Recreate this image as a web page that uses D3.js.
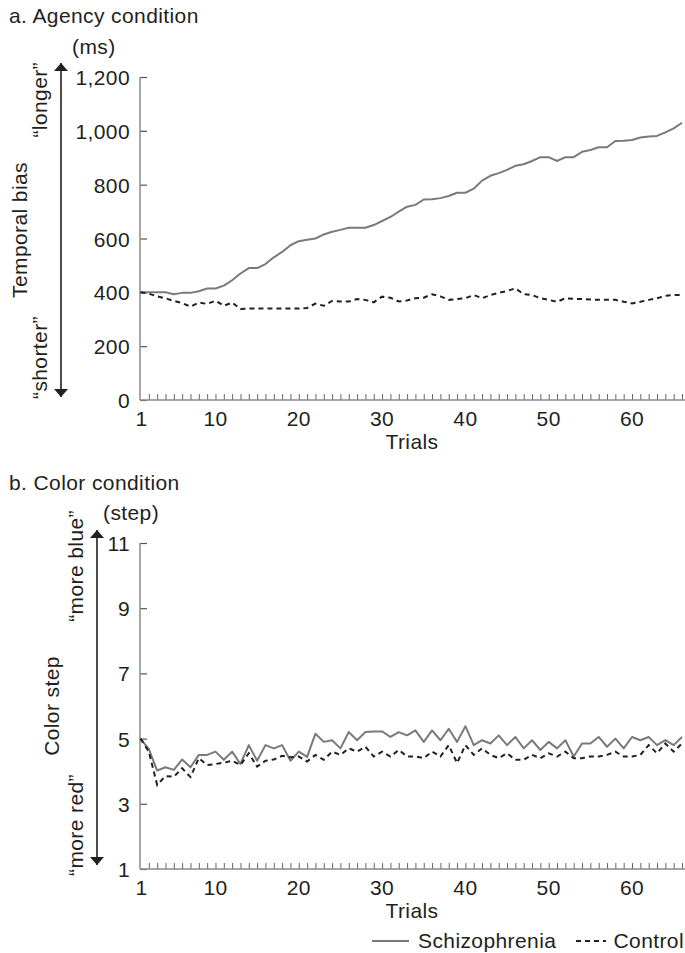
<!DOCTYPE html>
<html>
<head>
<meta charset="utf-8">
<script src="https://cdn.jsdelivr.net/npm/d3@7"></script>
<style>
  body { margin: 0; background: #fff; }
  svg text { font-family: "Liberation Sans", Arial, sans-serif; fill: #231f20; letter-spacing: 0.4px; }
</style>
</head>
<body>
<svg id="chart" width="685" height="953"></svg>
<script>
// trials 1..66
const trials = d3.range(1, 67);
const trialLabels = [1, 10, 20, 30, 40, 50, 60];

// a. agency condition, temporal bias (ms)
const agencySchizo = [400, 400, 400, 400, 393, 398, 398, 404, 414, 414,
  425, 445, 470, 490, 490, 505, 530, 550, 575, 590,
  595, 600, 615, 625, 632, 640, 640, 640, 650, 665,
  680, 700, 718, 725, 745, 746, 750, 758, 770, 770,
  785, 815, 833, 843, 855, 870, 876, 888, 902, 902,
  888, 902, 902, 922, 929, 939, 939, 962, 963, 966,
  975, 979, 981, 994, 1009, 1030];
const agencyControl = [400, 395, 385, 378, 368, 360, 347, 362, 357, 369,
  350, 362, 338, 340, 340, 340, 340, 340, 340, 340,
  342, 358, 350, 368, 366, 366, 375, 372, 363, 384,
  380, 366, 370, 378, 380, 393, 385, 372, 375, 378,
  390, 378, 390, 398, 405, 415, 393, 390, 378, 372,
  365, 378, 376, 375, 373, 372, 372, 372, 365, 359,
  365, 372, 378, 387, 390, 390];
const agencyTicks = [0, 200, 400, 600, 800, 1000, 1200];

// b. color condition, color step
const colorSchizo = [5.0, 4.68, 4.02, 4.12, 4.04, 4.36, 4.12, 4.5, 4.5, 4.6,
  4.35, 4.6, 4.22, 4.8, 4.32, 4.8, 4.7, 4.8, 4.32, 4.6,
  4.44, 5.15, 4.9, 4.95, 4.7, 5.2, 4.95, 5.2, 5.22, 5.22,
  5.05, 5.2, 5.1, 5.25, 4.9, 5.25, 4.95, 5.3, 4.9, 5.38,
  4.8, 4.95, 4.85, 5.1, 4.8, 5.05, 4.7, 4.95, 4.65, 4.9,
  4.7, 4.95, 4.45, 4.85, 4.85, 5.05, 4.75, 5.0, 4.7, 5.05,
  4.95, 5.05, 4.8, 4.95, 4.8, 5.05];
const colorControl = [5.0, 4.6, 3.58, 3.85, 3.83, 4.09, 3.82, 4.4, 4.19, 4.22,
  4.26, 4.32, 4.19, 4.55, 4.14, 4.32, 4.36, 4.47, 4.43, 4.45,
  4.3, 4.5, 4.35, 4.6, 4.5, 4.7, 4.6, 4.75, 4.45, 4.6,
  4.45, 4.65, 4.45, 4.45, 4.4, 4.6, 4.45, 4.8, 4.25, 4.8,
  4.5, 4.7, 4.5, 4.4, 4.55, 4.35, 4.35, 4.5, 4.4, 4.55,
  4.45, 4.6, 4.4, 4.4, 4.45, 4.45, 4.5, 4.6, 4.45, 4.45,
  4.5, 4.8, 4.55, 4.85, 4.6, 4.85];
const colorTicks = [1, 3, 5, 7, 9, 11];

const svg = d3.select("#chart");
const ink = "#231f20";
const gray = "#7a7a7a";
const axisGray = "#8a8a8a";
const fs = "21px";

// arrow heads
svg.append("defs").append("marker")
  .attr("id", "head")
  .attr("viewBox", "0 0 8 14")
  .attr("refX", 8).attr("refY", 7)
  .attr("markerWidth", 8).attr("markerHeight", 14)
  .attr("markerUnits", "userSpaceOnUse")
  .attr("orient", "auto-start-reverse")
  .append("path")
  .attr("d", "M0,0 L8,7 L0,14 Z")
  .style("fill", ink);

const x = d3.scaleLinear().domain([1, 66]).range([140.5, 682]);

function drawPanel(p) {
  const g = svg.append("g");
  const y = d3.scaleLinear().domain(p.domain).range([p.bottom, p.top]);

  // title and unit
  g.append("text").attr("x", 9).attr("y", p.titleY)
    .style("font-size", fs).text(p.title);
  g.append("text").attr("x", p.unitX).attr("y", p.top - 23)
    .style("font-size", fs).text(p.unit);

  // y axis, ticks point inward
  const ya = g.append("g").attr("transform", "translate(140,0)")
    .call(d3.axisLeft(y).tickValues(p.ticks).tickSize(-7).tickPadding(10)
      .tickFormat(p.fmt));
  ya.select(".domain").remove();
  ya.selectAll(".tick line").style("stroke", "#555").style("stroke-width", 1.2);
  ya.selectAll("text").style("font-size", fs)
    .style("font-family", "Liberation Sans, Arial, sans-serif")
    .style("fill", ink).attr("dy", "0.36em");
  g.append("line").attr("x1", 140).attr("x2", 140)
    .attr("y1", p.top).attr("y2", p.bottom)
    .style("stroke", axisGray).style("stroke-width", 1.5);

  // x axis, one small tick per trial
  const xa = g.append("g").attr("transform", "translate(0," + p.bottom + ")")
    .call(d3.axisBottom(x).tickValues(trials.slice(1)).tickSize(-6).tickFormat(d => ""));
  xa.select(".domain").remove();
  xa.selectAll(".tick line").style("stroke", "#666").style("stroke-width", 1);
  g.selectAll(".xlab").data(trialLabels).join("text")
    .attr("x", d => x(d) + (d === 1 ? 1 : 0))
    .attr("y", p.bottom + 26)
    .attr("text-anchor", "middle")
    .style("font-size", fs)
    .text(d => d);
  g.append("line").attr("x1", 140).attr("x2", 685)
    .attr("y1", p.bottom).attr("y2", p.bottom)
    .style("stroke", axisGray).style("stroke-width", 1.5);
  g.append("text").attr("x", 412).attr("y", p.bottom + 49)
    .attr("text-anchor", "middle").style("font-size", fs).text("Trials");

  // double arrow and side labels
  g.append("line").attr("x1", p.arrowX).attr("x2", p.arrowX)
    .attr("y1", p.arrowTop).attr("y2", p.arrowBottom)
    .style("stroke", ink).style("stroke-width", 1.6)
    .attr("marker-start", "url(#head)").attr("marker-end", "url(#head)");
  g.append("text")
    .attr("transform", "translate(" + p.quoteX + "," + p.upTop + ")rotate(-90)")
    .attr("text-anchor", "end").style("font-size", fs).text(p.up);
  g.append("text")
    .attr("transform", "translate(" + p.quoteX + "," + p.downBottom + ")rotate(-90)")
    .attr("text-anchor", "start").style("font-size", fs).text(p.down);
  g.append("text")
    .attr("transform", "translate(" + p.nameX + "," + p.nameY + ")rotate(-90)")
    .attr("text-anchor", "middle").style("font-size", fs).text(p.name);

  // series
  const line = d3.line().x((d, i) => x(trials[i])).y(d => y(d));
  g.append("path").datum(p.schizo).attr("d", line)
    .style("fill", "none").style("stroke", gray).style("stroke-width", 2)
    .style("stroke-linejoin", "round");
  g.append("path").datum(p.control).attr("d", line)
    .style("fill", "none").style("stroke", ink).style("stroke-width", 2)
    .style("stroke-dasharray", "5,4");
}

drawPanel({
  title: "a. Agency condition", titleY: 23,
  unit: "(ms)", unitX: 72,
  domain: [0, 1200], top: 77, bottom: 400,
  ticks: agencyTicks, fmt: d3.format(","),
  arrowX: 61, arrowTop: 63, arrowBottom: 397,
  quoteX: 47, upTop: 62, downBottom: 399,
  up: "\u201Clonger\u201D", down: "\u201Cshorter\u201D",
  nameX: 27, nameY: 230, name: "Temporal bias",
  schizo: agencySchizo, control: agencyControl
});

drawPanel({
  title: "b. Color condition", titleY: 490,
  unit: "(step)", unitX: 103,
  domain: [1, 11], top: 543, bottom: 869,
  ticks: colorTicks, fmt: d3.format("d"),
  arrowX: 97, arrowTop: 530, arrowBottom: 865,
  quoteX: 83, upTop: 510, downBottom: 876,
  up: "\u201Cmore blue\u201D", down: "\u201Cmore red\u201D",
  nameX: 59, nameY: 706, name: "Color step",
  schizo: colorSchizo, control: colorControl
});

// legend
const leg = svg.append("g");
leg.append("line").attr("x1", 372).attr("x2", 409).attr("y1", 941).attr("y2", 941)
  .style("stroke", gray).style("stroke-width", 2);
leg.append("text").attr("x", 418).attr("y", 948).style("font-size", fs).text("Schizophrenia");
leg.append("line").attr("x1", 576).attr("x2", 606).attr("y1", 941).attr("y2", 941)
  .style("stroke", ink).style("stroke-width", 2).style("stroke-dasharray", "5,4");
leg.append("text").attr("x", 684).attr("y", 948).attr("text-anchor", "end")
  .style("font-size", fs).text("Control");
</script>
</body>
</html>
